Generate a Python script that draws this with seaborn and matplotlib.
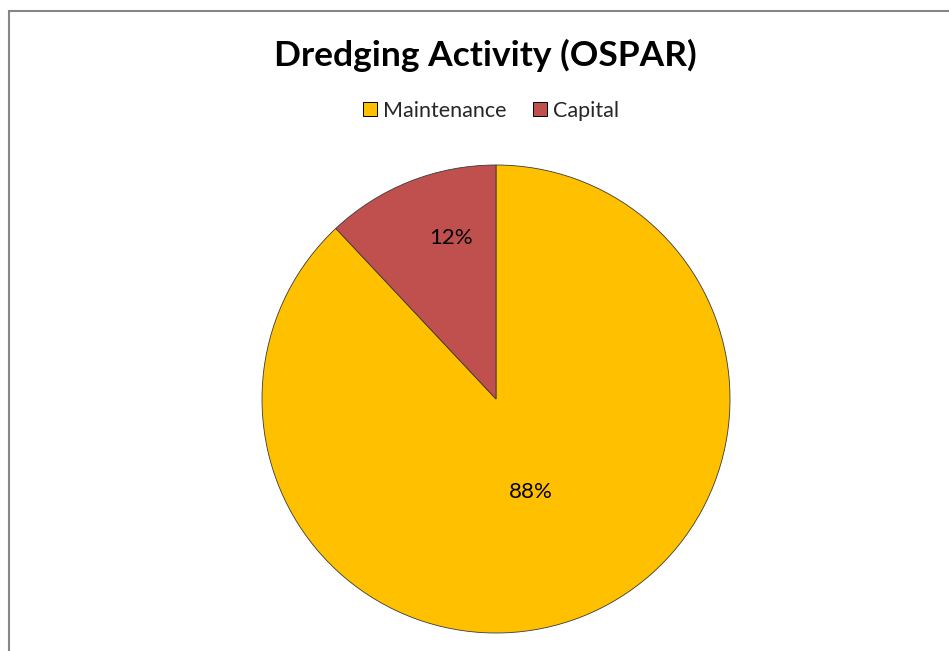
import matplotlib
matplotlib.use("Agg")
import matplotlib.pyplot as plt
from matplotlib.lines import Line2D
from matplotlib.patches import Rectangle
import numpy as np
import seaborn as sns

# Share of dredged material by activity type
categories = ["Maintenance", "Capital"]
shares = [88, 12]
label_radius = [0.425, 0.715]   # distance of each percentage label from the centre
label_turn = [-1.0, -6.0]       # angular nudge (deg) of each label from the wedge middle

sns.set_theme(style="white")
plt.rcParams["font.family"] = ["Lato", "DejaVu Sans"]

colors = ["#FFC000", "#C0504D"]

fig = plt.figure(figsize=(9.49, 6.51), dpi=100)
fig.patch.set_facecolor("white")

# Chart-area frame
fig.add_artist(Rectangle((8.5 / 949, -0.5), 2.0, 1.5 - 10.5 / 651,
                         transform=fig.transFigure, fill=False,
                         edgecolor="#868686", linewidth=1.5))

r_px = 234
cx, cy = 496, 399
ax = fig.add_axes([(cx - r_px) / 949, (651 - cy - r_px) / 651,
                   2 * r_px / 949, 2 * r_px / 651])

wedges, _ = ax.pie(shares, colors=colors, startangle=90, counterclock=False,
                   radius=1.0,
                   wedgeprops=dict(edgecolor="#3a3a3a", linewidth=0.6))
ax.set_xlim(-1, 1)
ax.set_ylim(-1, 1)
ax.set_aspect("equal")
ax.axis("off")

for w, val, d, turn in zip(wedges, shares, label_radius, label_turn):
    mid = np.deg2rad((w.theta1 + w.theta2) / 2 + turn)
    ax.text(d * np.cos(mid), d * np.sin(mid), f"{val}%",
            ha="center", va="center", fontsize=16, color="#000000")

fig.text(485 / 949, 1 - 55 / 651, "Dredging Activity (OSPAR)",
         ha="center", va="center", fontsize=25.5, fontweight="bold",
         color="#000000")

handles = [Line2D([], [], linestyle="none", marker="s", markersize=9.5,
                  markerfacecolor=c, markeredgecolor="#000000",
                  markeredgewidth=0.7) for c in colors]
fig.legend(handles, categories, loc="center", ncol=2,
           bbox_to_anchor=(490 / 949, 1 - 111 / 651), frameon=False,
           fontsize=15.5, handletextpad=0.15, columnspacing=1.1,
           handlelength=0.9)

fig.savefig("out.png", dpi=100, facecolor="white")
